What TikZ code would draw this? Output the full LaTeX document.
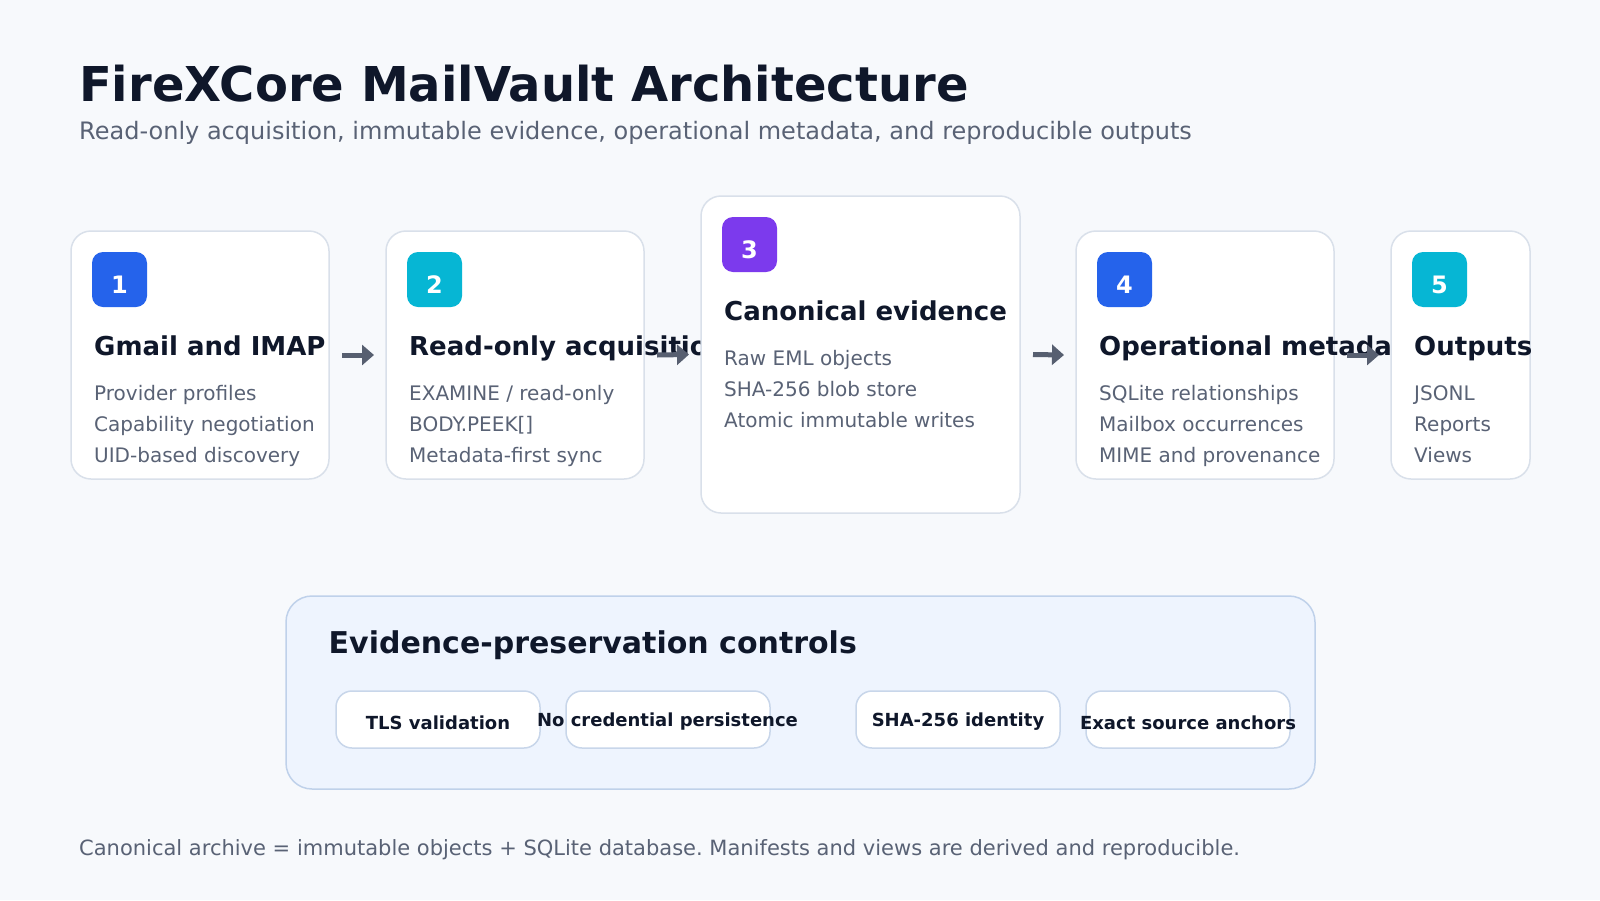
\documentclass[tikz,border=0pt]{standalone}
\usepackage{fontspec}
\setmainfont{DejaVu Sans}
\usetikzlibrary{arrows.meta}
\frenchspacing
\definecolor{bgc}{HTML}{F7F9FC}
\definecolor{ink}{HTML}{0F172A}
\definecolor{muted}{HTML}{596275}
\definecolor{cardline}{HTML}{D9E0EA}
\definecolor{arrowc}{HTML}{575F70}
\definecolor{blueb}{HTML}{2563EB}
\definecolor{cyanb}{HTML}{06B6D4}
\definecolor{purpleb}{HTML}{7C3AED}
\definecolor{panelfill}{HTML}{EEF4FE}
\definecolor{panelline}{HTML}{BFD1EA}
\definecolor{pillline}{HTML}{C8D6EA}
% #1 x, #2 y, #3 size style, #4 colour, #5 number, #6 title, #7-#9 items
\newcommand\mvstage[9]{%
  \node[card,#3] (s#5) at (#1,#2) {};
  \node[badge,fill=#4] (b#5) at (#1+21,#2+21) {};
  \node[num] (n#5) at (#1+48.5,#2+62) {#5};
  \node[ctitle] (t#5) at (#1+23,#2+124) {#6};
  \node[item] (s#5a) at (#1+23,#2+169) {#7};
  \node[item] (s#5b) at (#1+23,#2+200) {#8};
  \node[item] (s#5c) at (#1+23,#2+231) {#9};
}
\begin{document}
\begin{tikzpicture}[x=1pt,y=-1pt,
  card/.style={draw=cardline,line width=1.5pt,fill=white,rounded corners=20pt,
    inner sep=0pt,outer sep=0pt,anchor=north west},
  smallcard/.style={minimum width=258pt,minimum height=248pt},
  bigcard/.style={minimum width=319pt,minimum height=317pt},
  badge/.style={rounded corners=11pt,minimum width=55pt,minimum height=55pt,
    inner sep=0pt,outer sep=0pt,anchor=north west},
  num/.style={text=white,font=\fontsize{24}{28}\selectfont\bfseries,anchor=base,inner sep=0pt},
  ctitle/.style={text=ink,font=\fontsize{26}{31}\selectfont\bfseries,anchor=base west,inner sep=0pt},
  item/.style={text=muted,font=\fontsize{20}{24}\selectfont,anchor=base west,inner sep=0pt},
  footnote/.style={text=muted,font=\fontsize{21}{25}\selectfont,anchor=base west,inner sep=0pt},
  heading/.style={text=ink,font=\fontsize{48}{56}\selectfont\bfseries,anchor=base west,inner sep=0pt},
  subhead/.style={text=muted,font=\fontsize{24}{28}\selectfont,anchor=base west,inner sep=0pt},
  arr/.style={draw=arrowc,line width=5pt,-{Triangle[length=12pt,width=20pt]}},
  panel/.style={draw=panelline,line width=1.5pt,fill=panelfill,rounded corners=26pt,
    inner sep=0pt,outer sep=0pt,anchor=north west,minimum width=1029pt,minimum height=193pt},
  pill/.style={draw=pillline,line width=1.5pt,fill=white,rounded corners=16pt,
    inner sep=0pt,outer sep=0pt,anchor=north west,minimum width=204pt,minimum height=57pt},
  pilltext/.style={text=ink,font=\fontsize{18}{22}\selectfont\bfseries,anchor=base,inner sep=0pt},
  paneltitle/.style={text=ink,font=\fontsize{30}{36}\selectfont\bfseries,anchor=base west,inner sep=0pt}
]
\fill[bgc] (0,0) rectangle (1600,900);
\useasboundingbox (0,0) rectangle (1600,900);

\node[heading] (title) at (79,101) {FireXCore MailVault Architecture};
\node[subhead] (sub) at (79,139) {Read-only acquisition, immutable evidence, operational metadata, and reproducible outputs};

\mvstage{71}{231}{smallcard}{blueb}{1}{Gmail and IMAP}{Provider profiles}{Capability negotiation}{UID-based discovery}
\mvstage{386}{231}{smallcard}{cyanb}{2}{Read-only acquisition}{EXAMINE / read-only}{BODY.PEEK[]}{Metadata-first sync}
\mvstage{701}{196}{bigcard}{purpleb}{3}{Canonical evidence}{Raw EML objects}{SHA-256 blob store}{Atomic immutable writes}
\mvstage{1076}{231}{smallcard}{blueb}{4}{Operational metadata}{SQLite relationships}{Mailbox occurrences}{MIME and provenance}
\mvstage{1391}{231}{smallcard,minimum width=139pt}{cyanb}{5}{Outputs}{JSONL}{Reports}{Views}

\draw[arr] ([xshift=13pt]s1.east) -- ([xshift=-12pt]s2.west);
\draw[arr] ([xshift=13pt]s2.east) -- ([xshift=-12pt]s3.west);
\draw[arr] ([xshift=13pt]s3.east) -- ([xshift=-12pt]s4.west);
\draw[arr] ([xshift=13pt]s4.east) -- ([xshift=-12pt]s5.west);

\node[panel] (pn) at (286,596) {};
\node[paneltitle] (pnt) at (328.5,653.3) {Evidence-preservation controls};
\node[pill] (p1) at (336,691) {};
\node[pill] (p2) at (566,691) {};
\node[pill] (p3) at (856,691) {};
\node[pill] (p4) at (1086,691) {};
\node[pilltext] (p1t) at (438,729.3) {TLS validation};
\node[pilltext] (p2t) at (667.5,726.7) {No credential persistence};
\node[pilltext] (p3t) at (958,726.7) {SHA-256 identity};
\node[pilltext] (p4t) at (1188,729.3) {Exact source anchors};

\node[footnote] (foot) at (79,855) {Canonical archive = immutable objects + SQLite database. Manifests and views are derived and reproducible.};
\end{tikzpicture}
\end{document}
